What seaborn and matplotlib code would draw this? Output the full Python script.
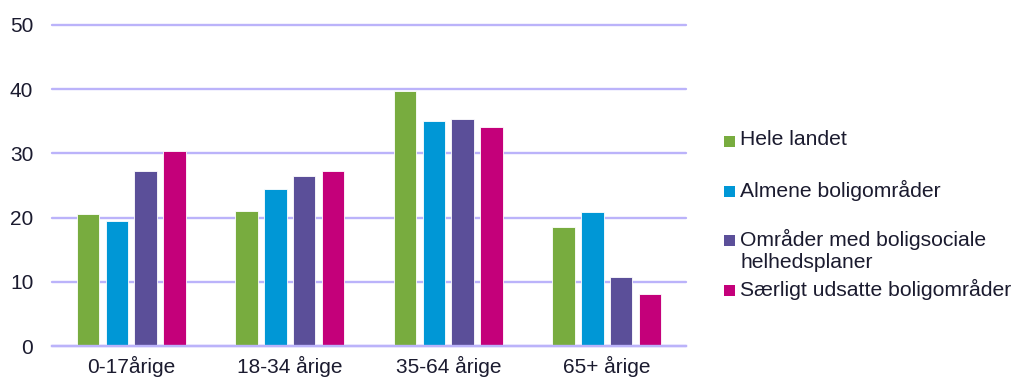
import matplotlib
matplotlib.use("Agg")
import matplotlib.pyplot as plt
from matplotlib.patches import Rectangle
import seaborn as sns
import pandas as pd

# Age groups and series
age_groups = ["0-17årige", "18-34 årige", "35-64 årige", "65+ årige"]
series = [
    "Hele landet",
    "Almene boligområder",
    "Områder med boligsociale\nhelhedsplaner",
    "Særligt udsatte boligområder",
]
hele_landet = [20.6, 21.0, 39.7, 18.5]
almene = [19.5, 24.4, 35.0, 20.9]
boligsociale = [27.2, 26.5, 35.4, 10.7]
saerligt_udsatte = [30.3, 27.3, 34.1, 8.1]
y_ticks = [0, 10, 20, 30, 40, 50]

colors = ["#78AC3F", "#0097D6", "#5B4F99", "#C4007A"]
grid_color = "#BBB3FA"
text_color = "#1B1B2F"

values = [hele_landet, almene, boligsociale, saerligt_udsatte]
df = pd.DataFrame(
    [
        {"alder": age, "serie": name, "andel": vals[i]}
        for name, vals in zip(series, values)
        for i, age in enumerate(age_groups)
    ]
)

sns.set_theme(style="white")
plt.rcParams["font.family"] = ["Liberation Sans", "DejaVu Sans"]

W, H = 1016, 383
fig = plt.figure(figsize=(W / 100, H / 100), dpi=100)
ax = fig.add_axes([52 / W, 1 - 346 / H, (686 - 52) / W, (346 - 25) / H])

sns.barplot(
    data=df, x="alder", y="andel", hue="serie",
    order=age_groups, hue_order=series, palette=colors, saturation=1,
    width=0.727, gap=0.22, edgecolor="white", linewidth=0.6,
    legend=False, ax=ax, zorder=3,
)

ax.set_ylim(0, 50)
ax.set_xlim(-0.5, len(age_groups) - 0.5)
ax.set_yticks(y_ticks)
ax.set_yticklabels([str(t) for t in y_ticks])
ax.set_xlabel("")
ax.set_ylabel("")
ax.yaxis.grid(True, color=grid_color, linewidth=1.7, zorder=0)
for gl in ax.get_ygridlines():
    gl.set_clip_on(False)
ax.set_axisbelow(True)
for side in ["left", "right", "top"]:
    ax.spines[side].set_visible(False)
ax.spines["bottom"].set_color(grid_color)
ax.spines["bottom"].set_linewidth(1.7)
ax.spines["bottom"].set_zorder(4)
ax.tick_params(axis="both", length=0, labelsize=15, colors=text_color)
ax.tick_params(axis="y", pad=13.5)
ax.tick_params(axis="x", pad=7)

# Legend on the right, drawn entry by entry
row_y = [141, 191, 240, 290]
for name, color, y in zip(series, colors, row_y):
    fig.patches.append(
        Rectangle(((724) / W, 1 - (y + 6) / H), 11 / W, 11 / H,
                  transform=fig.transFigure, facecolor=color, edgecolor="none")
    )
    fig.text(740 / W, 1 - (y - 11) / H, name, fontsize=15.2, color=text_color,
             va="top", ha="left", linespacing=1.18)

fig.savefig("out.png", dpi=100)
